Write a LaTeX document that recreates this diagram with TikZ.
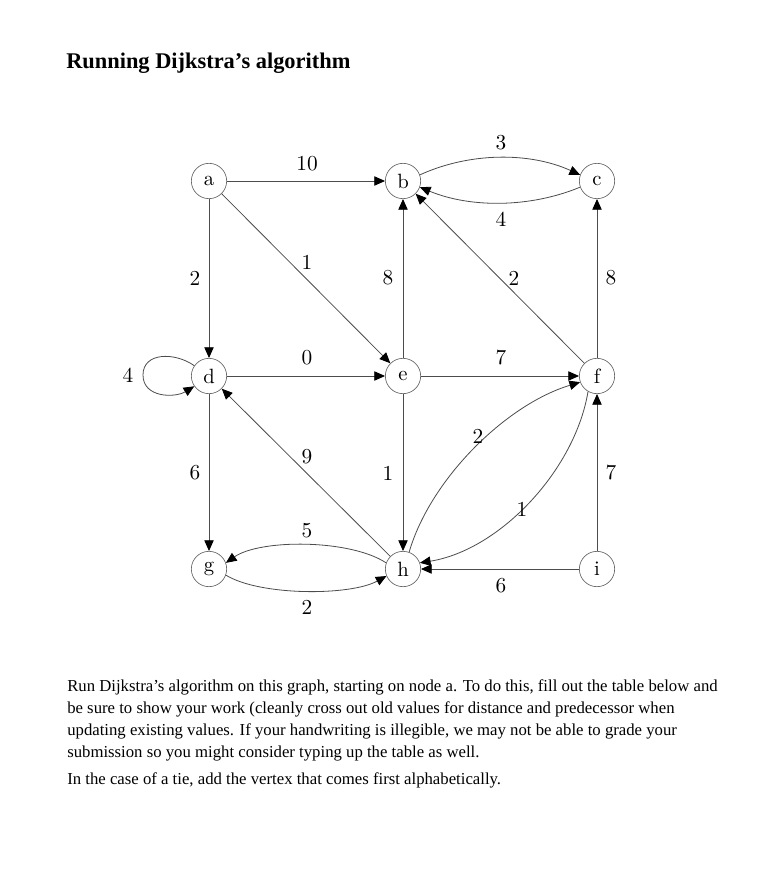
\documentclass[tikz,border=0pt]{standalone}
\usepackage{fontspec}
\newfontfamily\bodyfont{Liberation Serif}
\newfontfamily\graphfont{lmroman10-regular}[Extension=.otf]
\usetikzlibrary{arrows.meta}
\begin{document}
\begin{tikzpicture}[x=0.75pt,y=-0.75pt,
  vtx/.style={circle,draw=black!60,line width=0.5pt,minimum size=26.5pt,inner sep=0pt,font=\graphfont\fontsize{15.5}{15.5}\selectfont},
  edg/.style={draw=black!70,line width=0.6pt,-{Triangle[length=8pt,width=7pt,color=black]}},
  lbl/.style={inner sep=0pt,font=\graphfont\fontsize{16}{16}\selectfont},
  txt/.style={anchor=base west,inner sep=0pt,font=\bodyfont\fontsize{12.55}{14}\selectfont}]
\useasboundingbox (0,0) rectangle (776,884);
\fill[white] (0,0) rectangle (776,884);
% title
\node[anchor=base west,inner sep=0pt,font=\bodyfont\bfseries\fontsize{16.8}{20}\selectfont] (title) at (66,69) {Running Dijkstra’s algorithm};
% vertices
\node[vtx] (a) at (209,181) {a};
\node[vtx] (b) at (403,181) {b};
\node[vtx] (c) at (597,181) {c};
\node[vtx] (d) at (209,376) {d};
\node[vtx] (e) at (403,376) {e};
\node[vtx] (f) at (597,376) {f};
\node[vtx] (g) at (209,569) {g};
\node[vtx] (h) at (403,569) {h};
\node[vtx] (i) at (597,569) {i};
% straight edges
\draw[edg] (a) -- (b);
\draw[edg] (a) -- (d);
\draw[edg] (a) -- (e);
\draw[edg] (e) -- (b);
\draw[edg] (f) -- (b);
\draw[edg] (f) -- (c);
\draw[edg] (d) -- (e);
\draw[edg] (e) -- (f);
\draw[edg] (d) -- (g);
\draw[edg] (h) -- (d);
\draw[edg] (e) -- (h);
\draw[edg] (i) -- (f);
\draw[edg] (i) -- (h);
% curved edges
\draw[edg] (b.20) .. controls (470,152) and (530,152) .. (c.160);
\draw[edg] (c.200) .. controls (530,208) and (470,208) .. (b.340);
\draw[edg] (h.160) .. controls (350,539) and (260,539) .. (g.20);
\draw[edg] (g.340) .. controls (260,596) and (350,596) .. (h.203);
\draw[edg] (h.70) .. controls (430,480) and (505,405) .. (f.200);
\draw[edg] (f.240) .. controls (575,470) and (500,550) .. (h.20);
\draw[edg] (d.145) .. controls (175,352) and (143,352) .. (143,375) .. controls (143,398) and (175,398) .. (d.215);
% labels
\node[lbl] (lab) at (307,164) {10};
\node[lbl] (lad) at (195,278) {2};
\node[lbl] (lae) at (307,262) {1};
\node[lbl] (leb) at (388,278) {8};
\node[lbl] (lde) at (307,358) {0};
\node[lbl] (ldd) at (128,375) {4};
\node[lbl] (lbc) at (501,143) {3};
\node[lbl] (lcb) at (501,219) {4};
\node[lbl] (lfb) at (514,278) {2};
\node[lbl] (lfc) at (611,278) {8};
\node[lbl] (lef) at (501,358) {7};
\node[lbl] (lhd) at (307,457) {9};
\node[lbl] (ldg) at (195,473) {6};
\node[lbl] (leh) at (388,473) {1};
\node[lbl] (lhg) at (307,531) {5};
\node[lbl] (lgh) at (307,607) {2};
\node[lbl] (lhf) at (478,436) {2};
\node[lbl] (lfh) at (522,509) {1};
\node[lbl] (lif) at (611,473) {7};
\node[lbl] (lih) at (501,586) {6};
% body text
\node[txt] (t1) at (67,691) {Run Dijkstra’s algorithm on this graph, starting on node a. To do this, fill out the table below and};
\node[txt] (t2) at (67,713) {be sure to show your work (cleanly cross out old values for distance and predecessor when};
\node[txt] (t3) at (67,735) {updating existing values. If your handwriting is illegible, we may not be able to grade your};
\node[txt] (t4) at (67,757) {submission so you might consider typing up the table as well.};
\node[txt] (t5) at (67,784) {In the case of a tie, add the vertex that comes first alphabetically.};
\end{tikzpicture}
\end{document}
